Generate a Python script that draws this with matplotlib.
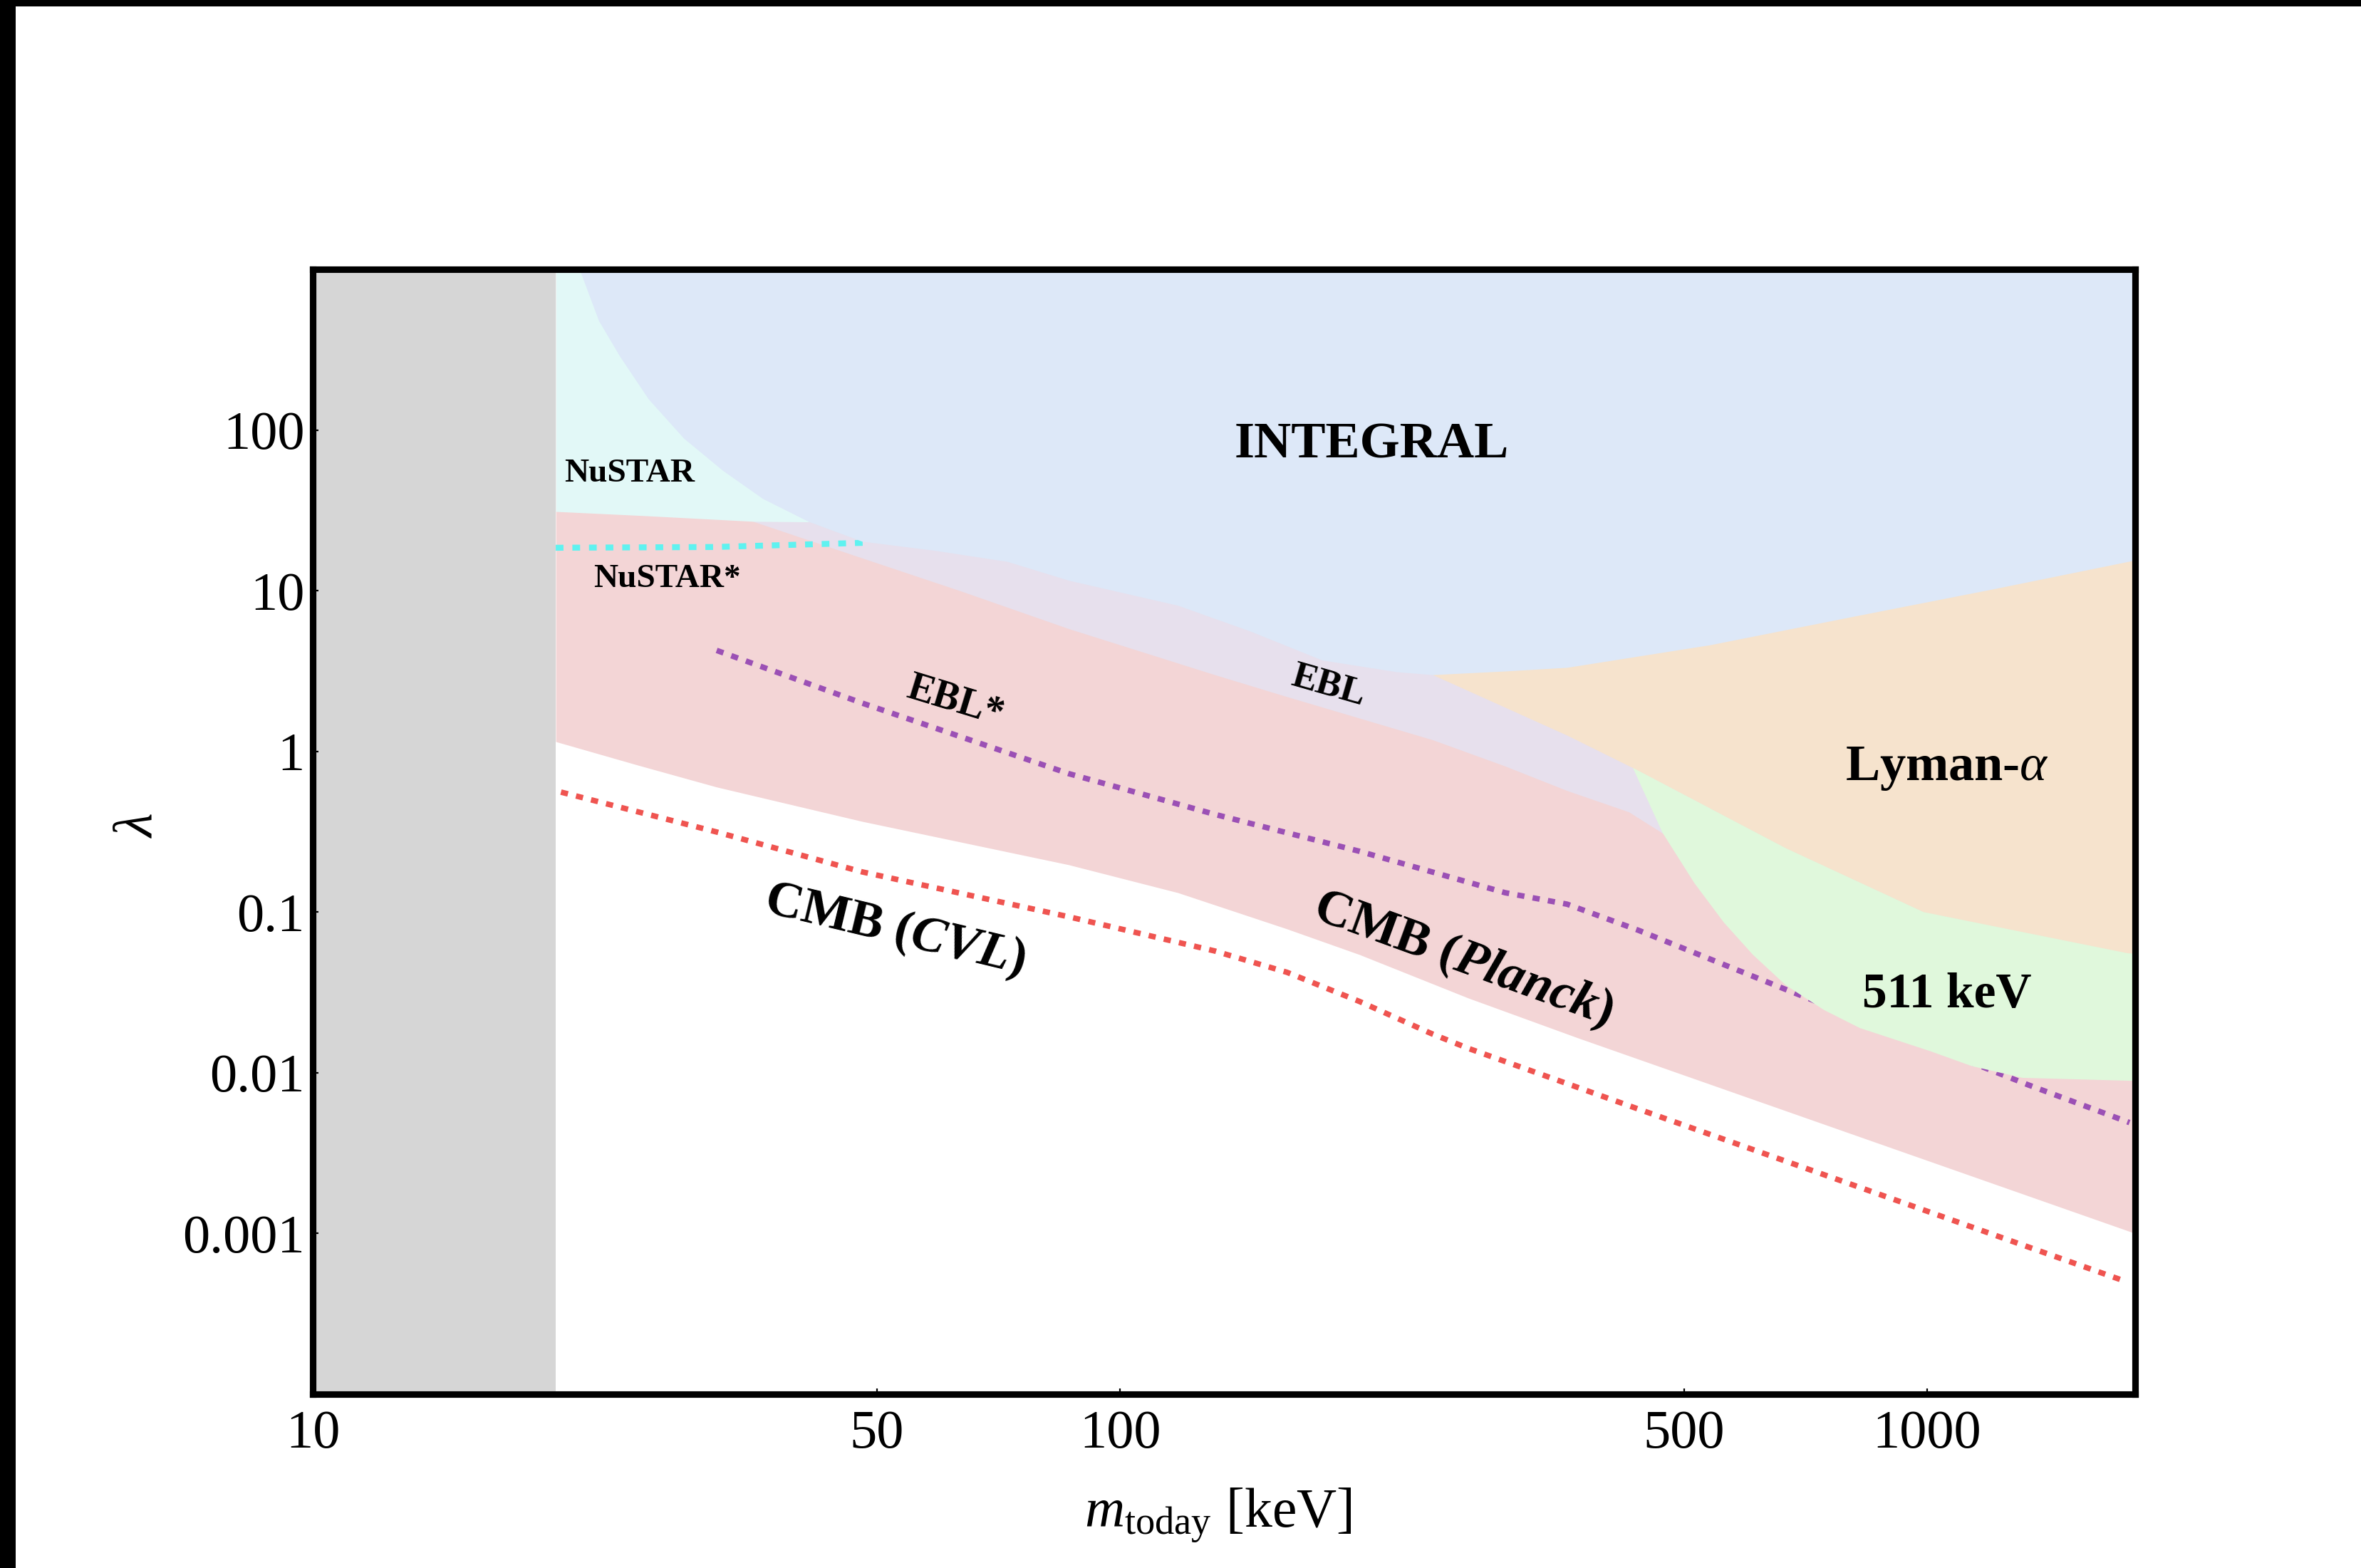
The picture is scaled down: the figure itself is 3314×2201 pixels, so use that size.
import numpy as np
import matplotlib.pyplot as plt
from matplotlib.patches import Rectangle
from matplotlib.ticker import NullLocator

plt.rcParams['font.family'] = ['Liberation Serif', 'DejaVu Serif']
plt.rcParams['mathtext.fontset'] = 'custom'
plt.rcParams['mathtext.rm'] = 'Liberation Serif'
plt.rcParams['mathtext.it'] = 'Liberation Serif:italic'
plt.rcParams['mathtext.bf'] = 'Liberation Serif:bold:italic'

# boundaries (m in keV, lambda)
integral_m = [21.4, 22.6, 24.0, 26.05, 28.8, 32.2, 36.1, 41.1, 47.9, 59.0, 72.5,
              86.4, 118, 145, 178, 220, 244, 300, 358, 538, 808, 1213, 1810]
integral_lam = [1000, 480, 288, 156, 89, 56, 37.4, 27.0, 20.3, 17.8, 15.2,
                11.6, 8.1, 5.6, 3.7, 3.13, 3.0, 3.16, 3.33, 4.6, 6.9, 10.3, 15.5]

nustar_m = [20, 25.7, 35.1, 41.1]
nustar_lam = [31.1, 29.3, 27.0, 26.8]

ebl_m = [35.1, 47.0, 63.7, 86.4, 131, 161, 244, 300, 358, 427, 470, 538]
ebl_lam = [27.0, 16.5, 9.9, 5.8, 3.0, 2.19, 1.18, 0.81, 0.57, 0.42, 0.31, 0.23]

planck_m = [20, 25.3, 31.65, 47.9, 86.4, 118, 161, 198, 270, 369, 1781, 1810]
planck_lam = [1.15, 0.82, 0.60, 0.367, 0.197, 0.132, 0.0786, 0.0544, 0.0292, 0.0165, 0.00103, 0.00100]

lyman_m = [244, 358, 432, 668, 990, 1770, 1810]
lyman_lam = [3.0, 1.26, 0.79, 0.25, 0.100, 0.0555, 0.055]

green_m = [432, 470, 515, 560, 608, 668, 745, 825, 1010, 1136, 1313, 1810]
green_lam = [0.79, 0.312, 0.151, 0.0861, 0.0544, 0.0351, 0.0246, 0.0190, 0.0136, 0.0110, 0.0093, 0.0089]

# projected sensitivities (dotted)
cvl_m = [20.3, 31.65, 47.9, 86.4, 131, 161, 198, 244, 270, 439, 1752]
cvl_lam = [0.558, 0.315, 0.178, 0.0935, 0.0573, 0.0422, 0.0278, 0.0174, 0.0142, 0.00594, 0.000508]

eblstar_m = [31.65, 47.9, 86.4, 131, 198, 300, 358, 439, 668, 1335, 1781]
eblstar_lam = [4.25, 2.0, 0.727, 0.406, 0.239, 0.132, 0.112, 0.077, 0.033, 0.0084, 0.0049]

nustarstar_m = [20, 31.5, 48.9]
nustarstar_lam = [18.5, 18.7, 19.9]

x_ticks = [10, 50, 100, 500, 1000]
y_ticks = [1e-3, 1e-2, 1e-1, 1, 10, 100]
y_ticklabels = ['0.001', '0.01', '0.1', '1', '10', '100']

fig = plt.figure(figsize=(16.57, 11.005), dpi=200)
ax = fig.add_axes([0.13247, 0.11086, 0.77187, 0.71740])
ax.set_xscale('log')
ax.set_yscale('log')
ax.set_xlim(10, 1810)
ax.set_ylim(1e-4, 1e3)

top = 1e3
ax.fill_between(planck_m, planck_lam, top, color='#f3d5d6', lw=0, zorder=1)
ax.fill_between(ebl_m, ebl_lam, top, color='#e7e0ed', lw=0, zorder=2)
ax.fill_between(nustar_m, nustar_lam, top, color='#e2f8f7', lw=0, zorder=2)
ax.fill_between(lyman_m, lyman_lam, top, color='#f6e3cd', lw=0, zorder=2.5)

dot = (0, (1.3, 1.5))
ax.plot(cvl_m, cvl_lam, color='#ef5450', lw=2.8, ls=dot, zorder=3)
ax.plot(eblstar_m, eblstar_lam, color='#9b50b5', lw=2.8, ls=dot, zorder=3)
ax.plot(nustarstar_m, nustarstar_lam, color='#5ff2f0', lw=3.0, ls=dot, zorder=3)

ax.fill_between(integral_m, integral_lam, top, color='#dde8f8', lw=0, zorder=4)
gx = green_m + [m for m in lyman_m[::-1] if m >= 432]
gy = green_lam + [l for m, l in zip(lyman_m[::-1], lyman_lam[::-1]) if m >= 432]
ax.fill(gx, gy, color='#e0f8dc', lw=0, zorder=4)

ax.axvspan(10, 20, color='#d6d6d6', lw=0, zorder=5)

# labels
bold = dict(fontweight='bold', color='black', zorder=6)
ax.text(205, 67, 'INTEGRAL', ha='center', va='baseline', fontsize=26, **bold)
ax.text(24.7, 47.8, 'NuSTAR', ha='center', va='baseline', fontsize=17, **bold)
ax.text(27.5, 10.5, 'NuSTAR*', ha='center', va='baseline', fontsize=17, **bold)
ax.text(1058, 0.664, r'Lyman-$\alpha$', ha='center', va='baseline', fontsize=26, **bold)
ax.text(1058, 0.0256, '511 keV', ha='center', va='baseline', fontsize=25, **bold)
ax.text(62.5, 2.04, 'EBL*', ha='center', va='center', rotation=-17,
        rotation_mode='anchor', fontsize=20, **bold)
ax.text(181, 2.55, 'EBL', ha='center', va='center', rotation=-16,
        rotation_mode='anchor', fontsize=19, **bold)
ax.text(52.6, 0.077, r'CMB ($\mathbf{CVL}$)', ha='center', va='center', rotation=-13.5,
        rotation_mode='anchor', fontsize=26, **bold)
ax.text(266, 0.0507, r'CMB ($\mathbf{Planck}$)', ha='center', va='center', rotation=-20,
        rotation_mode='anchor', fontsize=26, **bold)

ax.set_xticks(x_ticks)
ax.set_xticklabels([str(v) for v in x_ticks])
ax.set_yticks(y_ticks)
ax.set_yticklabels(y_ticklabels)
ax.xaxis.set_minor_locator(NullLocator())
ax.yaxis.set_minor_locator(NullLocator())
ax.tick_params(direction='in', length=3, width=0.8, labelsize=27.5)
ax.tick_params(axis='x', pad=8)
ax.tick_params(axis='y', pad=4)
ax.xaxis.set_zorder(10)
ax.yaxis.set_zorder(10)
for s in ax.spines.values():
    s.set_linewidth(3.3)
    s.set_zorder(10)

ax.set_xlabel(r'$m_{\rm today}$ [keV]', fontsize=28)
ax.set_ylabel(r'$\lambda$', fontsize=28)
ax.xaxis.set_label_coords(0.497, -0.082)
ax.yaxis.set_label_coords(-0.081, 0.506)

# black frame strips of the screenshot
fig.add_artist(Rectangle((0, 0), 22 / 3314, 1, transform=fig.transFigure, color='black', lw=0))
fig.add_artist(Rectangle((0, 1 - 9 / 2201), 1, 9 / 2201, transform=fig.transFigure, color='black', lw=0))

fig.savefig('out.png', dpi=200)
